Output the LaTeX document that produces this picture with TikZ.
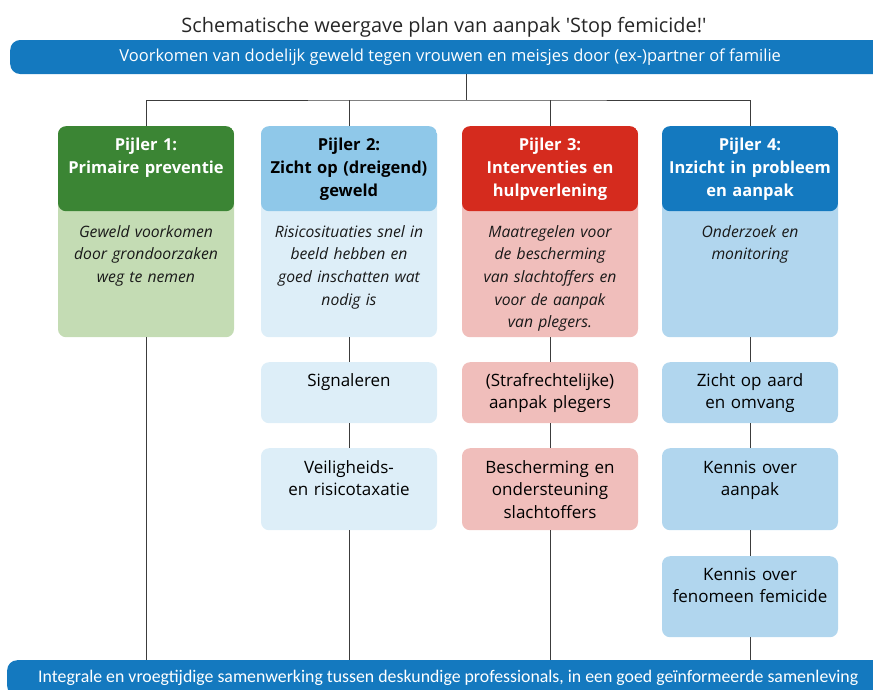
\documentclass[tikz,border=0pt]{standalone}
\usepackage{fontspec}
\setmainfont{Open Sans}
\newfontfamily\condfont{Carlito}
\usetikzlibrary{positioning}

\definecolor{robar}{HTML}{1479BF}
\definecolor{greenH}{HTML}{3B8534}
\definecolor{greenB}{HTML}{C4DCB4}
\definecolor{blueH}{HTML}{8FC8E9}
\definecolor{blueB}{HTML}{DDEEF8}
\definecolor{redH}{HTML}{D52B1E}
\definecolor{redB}{HTML}{F0BEBB}
\definecolor{darkH}{HTML}{1479BF}
\definecolor{darkB}{HTML}{B1D6EE}
\definecolor{linegray}{HTML}{3C3C3C}

\tikzset{
	pillar/.style 2 args={rounded corners=8pt, minimum width=176pt, minimum height=211pt, anchor=north, fill=#2,
		path picture={\fill[#1] (path picture bounding box.north west) rectangle ([yshift=-85pt]path picture bounding box.north east);}},
	hdtext/.style={font=\bfseries\fontsize{16.5}{23}\selectfont, align=center, text width=172pt, inner sep=0pt, anchor=base},
	bodytext/.style={font=\itshape\fontsize{15.7}{22.7}\selectfont, align=center, text width=172pt, inner sep=0pt, anchor=base, text=black!90},
	sub/.style={rounded corners=8pt, minimum width=176pt, anchor=north},
	subtext/.style={font=\fontsize{17}{22.6}\selectfont, align=center, text width=172pt, inner sep=0pt, anchor=base},
	bar/.style={fill=robar, rounded corners=10pt, text=white, inner sep=0pt},
	link/.style={draw=linegray, line width=1pt}
}

\begin{document}
\begin{tikzpicture}[x=1pt,y=-1pt]
			\useasboundingbox (0,0) rectangle (873,689);
			\clip (0,0) rectangle (873,689);
			% title and bars
			\node[font=\fontsize{19.9}{23}\selectfont, anchor=base, text=black!85] (title) at (444,32) {Schematische weergave plan van aanpak \textquotesingle Stop femicide!\textquotesingle};
			\node[bar, anchor=west, minimum width=880pt, minimum height=34pt, font=\fontsize{16.5}{18}\selectfont] (goal) at (10,57) {Voorkomen van dodelijk geweld tegen vrouwen en meisjes door (ex-)partner of familie};
			\node[bar, anchor=north west, minimum width=882pt, minimum height=36pt, font=\condfont\fontsize{17.8}{20}\selectfont] (base) at (7,660) {Integrale en vroegtijdige samenwerking tussen deskundige professionals, in een goed geïnformeerde samenleving};
			% pillars
			\node[pillar={greenH}{greenB}] (p1) at (146,126) {};
			\node[pillar={blueH}{blueB}] (p2) at (349,126) {};
			\node[pillar={redH}{redB}] (p3) at (550,126) {};
			\node[pillar={darkH}{darkB}] (p4) at (750,126) {};
			\node[hdtext, text=white] (h1) at (146,150) {Pijler 1:\\Primaire preventie};
			\node[hdtext, text=black] (h2) at (349,150) {Pijler 2:\\Zicht op (dreigend)\\geweld};
			\node[hdtext, text=white] (h3) at (550,150) {Pijler 3:\\Interventies en\\hulpverlening};
			\node[hdtext, text=white] (h4) at (750,150) {Pijler 4:\\Inzicht in probleem\\en aanpak};
			\node[bodytext] (d1) at (146,237) {Geweld voorkomen\\door grondoorzaken\\weg te nemen};
			\node[bodytext] (d2) at (349,237) {Risicosituaties snel in\\beeld hebben en\\goed inschatten wat\\nodig is};
			\node[bodytext] (d3) at (550,237) {Maatregelen voor\\de bescherming\\van slachtoffers en\\voor de aanpak\\van plegers.};
			\node[bodytext] (d4) at (750,237) {Onderzoek en\\monitoring};
			% sub boxes
			\node[sub, fill=blueB, minimum height=61pt] (s21) at (349,362) {};
			\node[sub, fill=blueB, minimum height=82pt] (s22) at (349,448) {};
			\node[sub, fill=redB, minimum height=61pt] (s31) at (550,362) {};
			\node[sub, fill=redB, minimum height=82pt] (s32) at (550,448) {};
			\node[sub, fill=darkB, minimum height=61pt] (s41) at (750,362) {};
			\node[sub, fill=darkB, minimum height=82pt] (s42) at (750,448) {};
			\node[sub, fill=darkB, minimum height=81pt] (s43) at (750,556) {};
			\node[subtext] (t21) at (349,386) {Signaleren};
			\node[subtext] (t22) at (349,473) {Veiligheids-\\en risicotaxatie};
			\node[subtext] (t31) at (550,386) {(Strafrechtelijke)\\aanpak plegers};
			\node[subtext] (t32) at (550,473) {Bescherming en\\ondersteuning\\slachtoffers};
			\node[subtext] (t41) at (750,386) {Zicht op aard\\en omvang};
			\node[subtext] (t42) at (750,473) {Kennis over\\aanpak};
			\node[subtext] (t43) at (750,580) {Kennis over\\fenomeen femicide};
			% connectors
			\coordinate (split) at (466,100);
			\draw[link] (goal.south -| split) -- (split);
			\draw[link] (p1.north) |- (split) -| (p4.north);
			\draw[link] (p2.north) -- (p2.north |- split);
			\draw[link] (p3.north) -- (p3.north |- split);
			\draw[link] (p1.south) -- (p1.south |- base.north);
			\draw[link] (p2.south) -- (s21.north);
			\draw[link] (s21.south) -- (s22.north);
			\draw[link] (s22.south) -- (s22.south |- base.north);
			\draw[link] (p3.south) -- (s31.north);
			\draw[link] (s31.south) -- (s32.north);
			\draw[link] (s32.south) -- (s32.south |- base.north);
			\draw[link] (p4.south) -- (s41.north);
			\draw[link] (s41.south) -- (s42.north);
			\draw[link] (s42.south) -- (s43.north);
			\draw[link] (s43.south) -- (s43.south |- base.north);
		\end{tikzpicture}
\end{document}
